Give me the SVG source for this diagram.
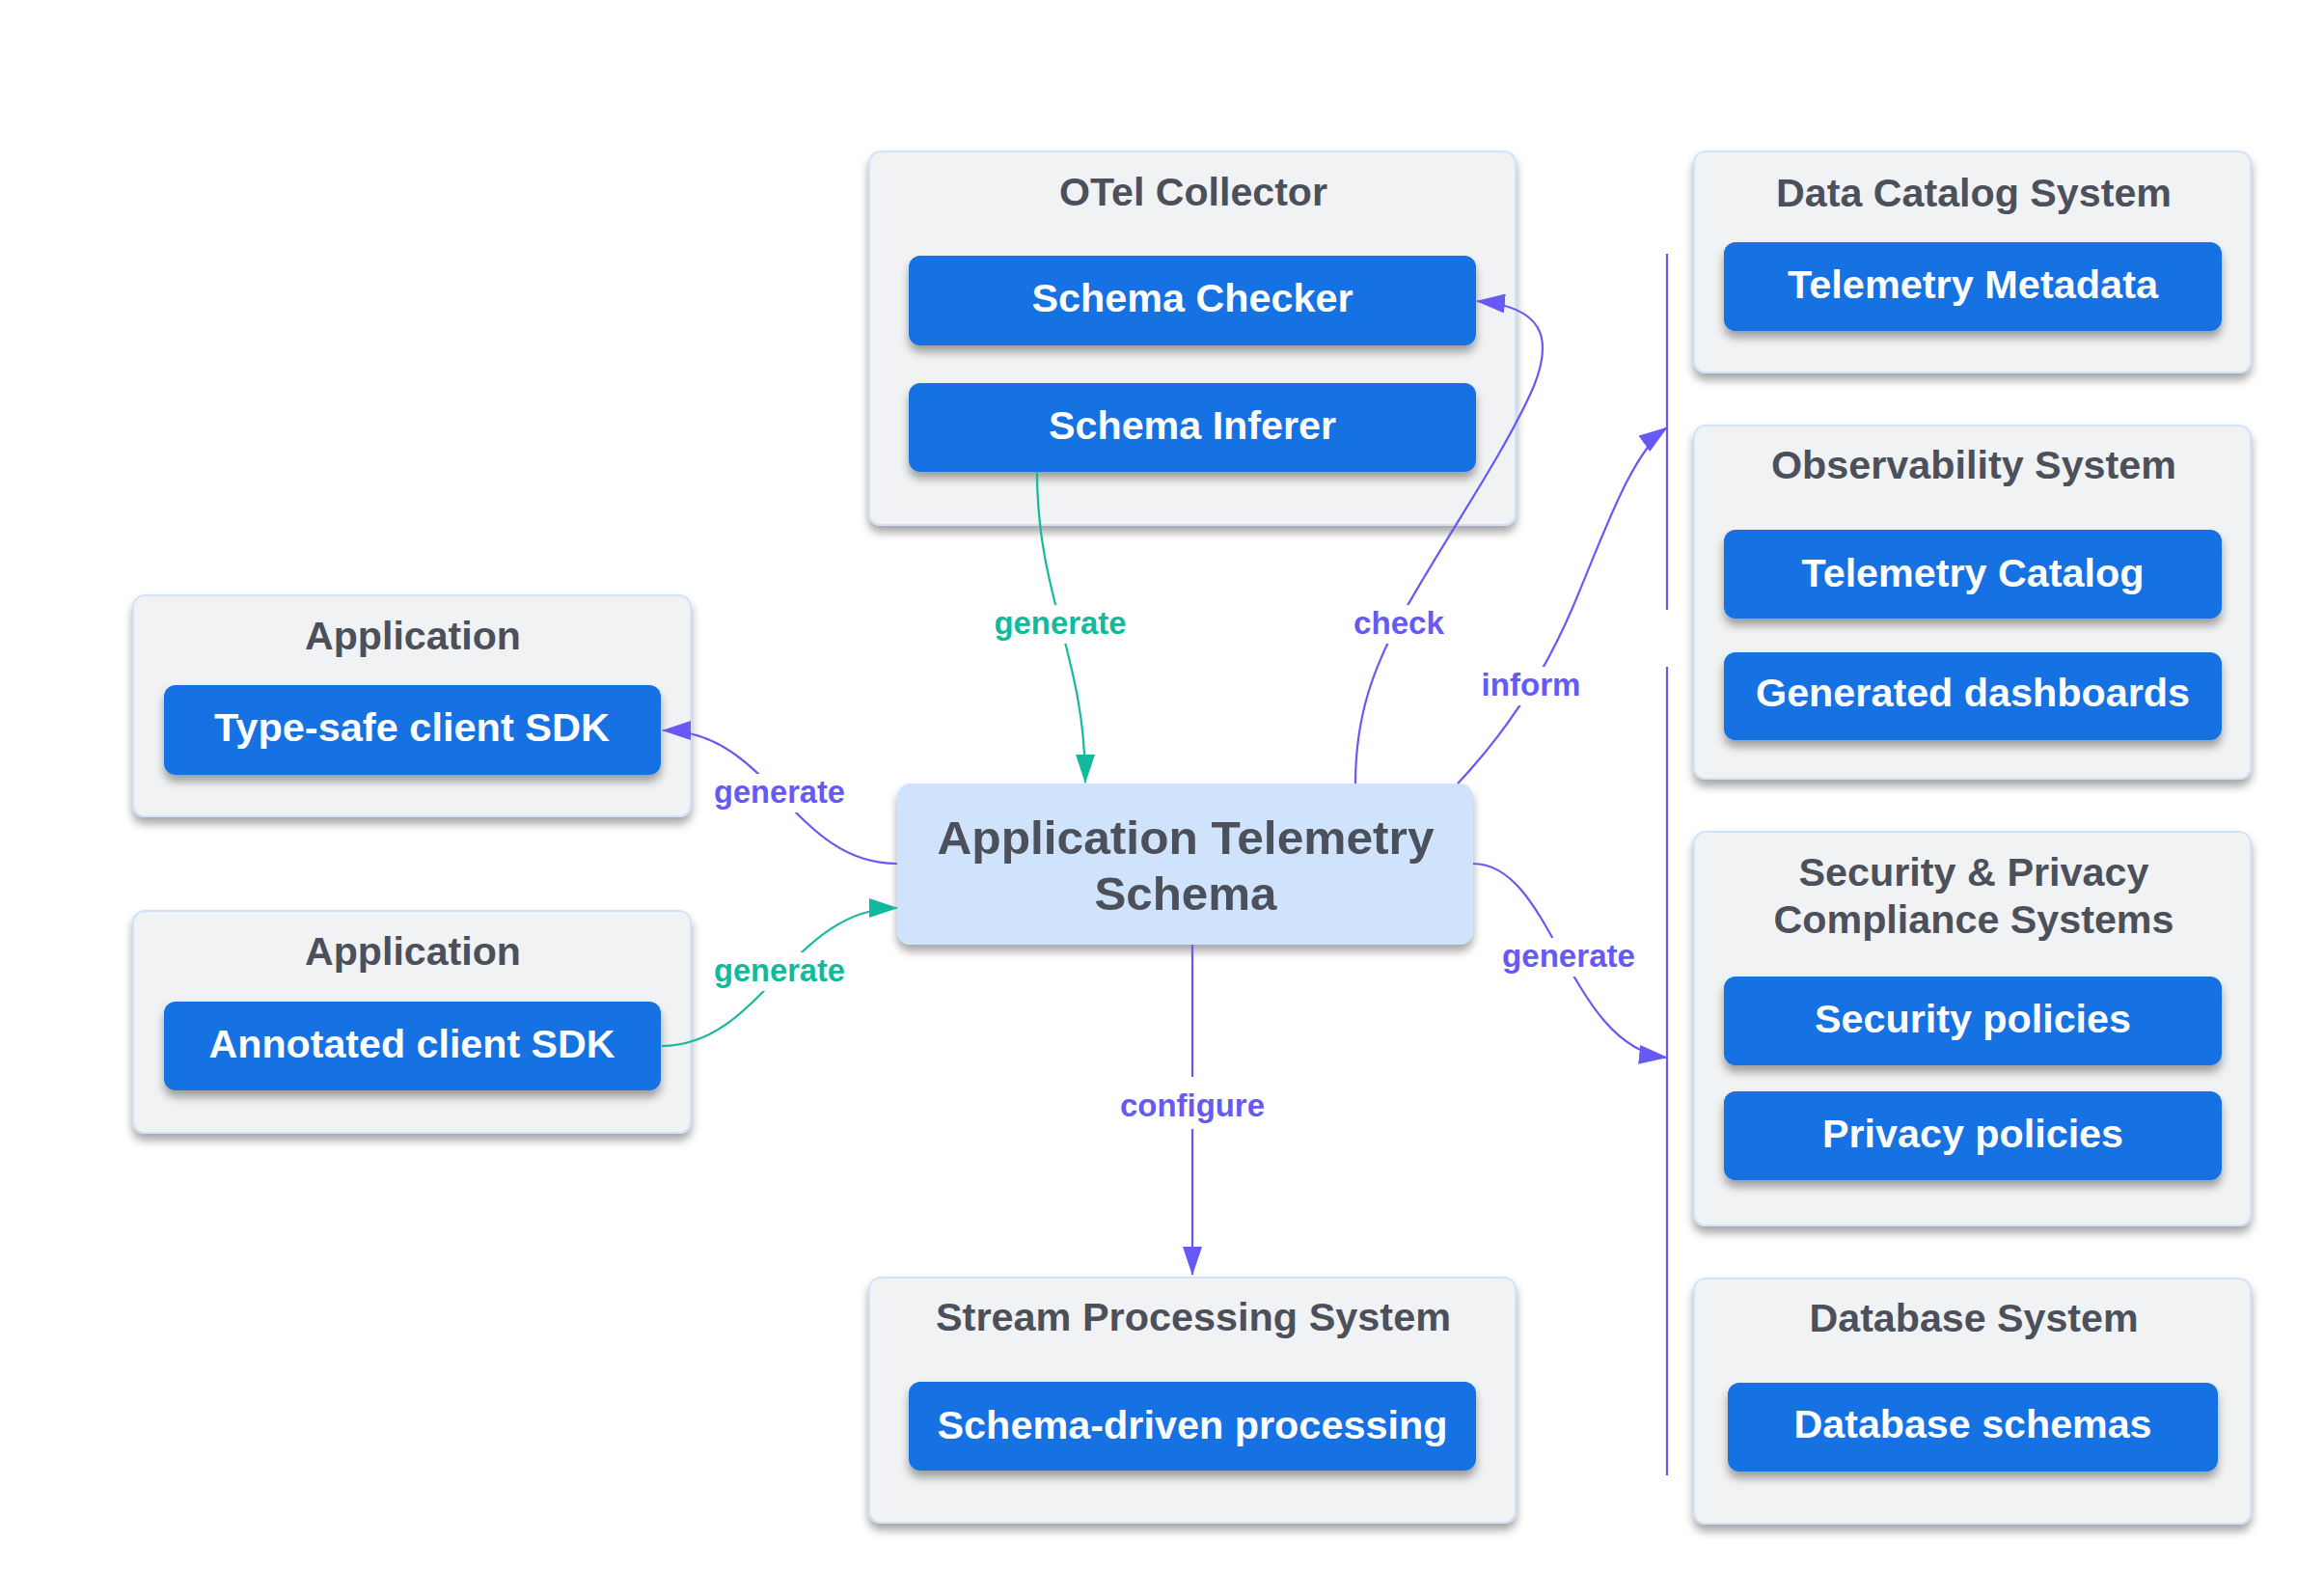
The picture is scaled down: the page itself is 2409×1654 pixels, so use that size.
<svg xmlns="http://www.w3.org/2000/svg" width="2409" height="1654" viewBox="0 0 2409 1654">
<defs>
<filter id="sh" x="-10%" y="-20%" width="120%" height="150%">
<feDropShadow dx="0" dy="7" stdDeviation="5" flood-color="#000" flood-opacity="0.35"/>
</filter>
<marker id="ap" markerUnits="userSpaceOnUse" markerWidth="30" markerHeight="20" viewBox="0 0 30 20" refX="29" refY="10" orient="auto"><path d="M0,0 L30,10 L0,20 z" fill="#6659f6"/></marker>
<marker id="ag" markerUnits="userSpaceOnUse" markerWidth="30" markerHeight="20" viewBox="0 0 30 20" refX="29" refY="10" orient="auto"><path d="M0,0 L30,10 L0,20 z" fill="#13b99c"/></marker>
<style>
.cont{fill:#f1f2f4;stroke:#d2e2fa;stroke-width:2;filter:url(#sh)}
.box{fill:#1272e3;filter:url(#sh)}
.core{fill:#cfe3fc;filter:url(#sh)}
.t{font-family:"Liberation Sans",Arial,sans-serif;font-weight:bold;text-anchor:middle}
.ti{font-size:40px;fill:#4b505a}
.bt{font-size:40px;fill:#ffffff}
.ct{font-size:49px;fill:#4b505a}
.lp{font-size:33px;fill:#6659f6}
.lg{font-size:33px;fill:#13b99c}
.ep{fill:none;stroke:#6659f6;stroke-width:2.2}
.eg{fill:none;stroke:#13b99c;stroke-width:2.2}
.bg{fill:#ffffff}
</style>
</defs>
<rect width="2409" height="1654" fill="#ffffff"/>

<g id="otel-collector">
<rect class="cont" x="901" y="157" width="670" height="387" rx="12"/>
<text class="t ti" x="1237" y="213" textLength="278" lengthAdjust="spacingAndGlyphs">OTel Collector</text>
</g>
<g id="schema-checker">
<rect class="box" x="942" y="265" width="588" height="93" rx="12"/>
<text class="t bt" x="1236" y="323" textLength="333" lengthAdjust="spacingAndGlyphs">Schema Checker</text>
</g>
<g id="schema-inferer">
<rect class="box" x="942" y="397" width="588" height="92" rx="12"/>
<text class="t bt" x="1236" y="455" textLength="298" lengthAdjust="spacingAndGlyphs">Schema Inferer</text>
</g>

<g id="app1">
<rect class="cont" x="138" y="617" width="578" height="229" rx="12"/>
<text class="t ti" x="428" y="673" textLength="224" lengthAdjust="spacingAndGlyphs">Application</text>
</g>
<g id="typesafe-sdk">
<rect class="box" x="170" y="710" width="515" height="93" rx="12"/>
<text class="t bt" x="427" y="768" textLength="410" lengthAdjust="spacingAndGlyphs">Type-safe client SDK</text>
</g>
<g id="app2">
<rect class="cont" x="138" y="944" width="578" height="230" rx="12"/>
<text class="t ti" x="428" y="1000" textLength="224" lengthAdjust="spacingAndGlyphs">Application</text>
</g>
<g id="annotated-sdk">
<rect class="box" x="170" y="1038" width="515" height="92" rx="12"/>
<text class="t bt" x="427" y="1096" textLength="421" lengthAdjust="spacingAndGlyphs">Annotated client SDK</text>
</g>

<g id="schema">
<rect class="core" x="930" y="812" width="597" height="167" rx="14"/>
<text class="t ct" x="1229" y="885" textLength="515" lengthAdjust="spacingAndGlyphs">Application Telemetry</text>
<text class="t ct" x="1229" y="943" textLength="189" lengthAdjust="spacingAndGlyphs">Schema</text>
</g>

<g id="stream-processing">
<rect class="cont" x="901" y="1324" width="670" height="254" rx="12"/>
<text class="t ti" x="1237" y="1379" textLength="534" lengthAdjust="spacingAndGlyphs">Stream Processing System</text>
</g>
<g id="schema-driven">
<rect class="box" x="942" y="1432" width="588" height="92" rx="12"/>
<text class="t bt" x="1236" y="1491" textLength="529" lengthAdjust="spacingAndGlyphs">Schema-driven processing</text>
</g>

<g id="data-catalog">
<rect class="cont" x="1756" y="157" width="577" height="229" rx="12"/>
<text class="t ti" x="2046" y="214" textLength="410" lengthAdjust="spacingAndGlyphs">Data Catalog System</text>
</g>
<g id="telemetry-metadata">
<rect class="box" x="1787" y="251" width="516" height="92" rx="12"/>
<text class="t bt" x="2045" y="309" textLength="384" lengthAdjust="spacingAndGlyphs">Telemetry Metadata</text>
</g>

<g id="observability">
<rect class="cont" x="1756" y="441" width="577" height="366" rx="12"/>
<text class="t ti" x="2046" y="496" textLength="420" lengthAdjust="spacingAndGlyphs">Observability System</text>
</g>
<g id="telemetry-catalog">
<rect class="box" x="1787" y="549" width="516" height="92" rx="12"/>
<text class="t bt" x="2045" y="608" textLength="355" lengthAdjust="spacingAndGlyphs">Telemetry Catalog</text>
</g>
<g id="generated-dashboards">
<rect class="box" x="1787" y="676" width="516" height="91" rx="12"/>
<text class="t bt" x="2045" y="732" textLength="450" lengthAdjust="spacingAndGlyphs">Generated dashboards</text>
</g>

<g id="security-privacy">
<rect class="cont" x="1756" y="862" width="577" height="408" rx="12"/>
<text class="t ti" x="2046" y="918" textLength="363" lengthAdjust="spacingAndGlyphs">Security &amp; Privacy</text>
<text class="t ti" x="2046" y="967" textLength="415" lengthAdjust="spacingAndGlyphs">Compliance Systems</text>
</g>
<g id="security-policies">
<rect class="box" x="1787" y="1012" width="516" height="92" rx="12"/>
<text class="t bt" x="2045" y="1070" textLength="328" lengthAdjust="spacingAndGlyphs">Security policies</text>
</g>
<g id="privacy-policies">
<rect class="box" x="1787" y="1131" width="516" height="92" rx="12"/>
<text class="t bt" x="2045" y="1189" textLength="312" lengthAdjust="spacingAndGlyphs">Privacy policies</text>
</g>

<g id="database">
<rect class="cont" x="1756" y="1325" width="577" height="254" rx="12"/>
<text class="t ti" x="2046" y="1380" textLength="341" lengthAdjust="spacingAndGlyphs">Database System</text>
</g>
<g id="database-schemas">
<rect class="box" x="1791" y="1433" width="508" height="92" rx="12"/>
<text class="t bt" x="2045" y="1490" textLength="371" lengthAdjust="spacingAndGlyphs">Database schemas</text>
</g>

<g id="connectors">
<line class="ep" x1="1728" y1="263" x2="1728" y2="632"/>
<line class="ep" x1="1728" y1="691" x2="1728" y2="1529"/>

<path class="eg" d="M1075,489 C1075,620 1125,680 1125,811" marker-end="url(#ag)"/>
<rect class="bg" x="1026" y="627" width="146" height="40"/>
<text class="t lg" x="1099" y="657" textLength="137" lengthAdjust="spacingAndGlyphs">generate</text>

<path class="ep" d="M1405,812 C1405,740 1425,690 1452,640 C1490,570 1560,470 1590,400 C1610,350 1600,318 1531,312" marker-end="url(#ap)"/>
<rect class="bg" x="1400" y="627" width="100" height="40"/>
<text class="t lp" x="1450" y="657" textLength="94" lengthAdjust="spacingAndGlyphs">check</text>

<path class="ep" d="M1511,812 C1560,760 1600,700 1630,630 C1660,560 1690,470 1728,443" marker-end="url(#ap)"/>
<rect class="bg" x="1533" y="691" width="108" height="40"/>
<text class="t lp" x="1587" y="721" textLength="103" lengthAdjust="spacingAndGlyphs">inform</text>

<path class="ep" d="M1527,895 C1610,895 1625,1085 1728,1096" marker-end="url(#ap)"/>
<rect class="bg" x="1555" y="972" width="144" height="40"/>
<text class="t lp" x="1626" y="1002" textLength="138" lengthAdjust="spacingAndGlyphs">generate</text>

<path class="ep" d="M930,895 C820,895 800,757 687,757" marker-end="url(#ap)"/>
<rect class="bg" x="736" y="802" width="144" height="40"/>
<text class="t lp" x="808" y="832" textLength="136" lengthAdjust="spacingAndGlyphs">generate</text>

<path class="eg" d="M686,1084 C790,1084 820,941 930,941" marker-end="url(#ag)"/>
<rect class="bg" x="736" y="987" width="144" height="40"/>
<text class="t lg" x="808" y="1017" textLength="136" lengthAdjust="spacingAndGlyphs">generate</text>

<line class="ep" x1="1236" y1="979" x2="1236" y2="1321" marker-end="url(#ap)"/>
<rect class="bg" x="1158" y="1116" width="156" height="54"/>
<text class="t lp" x="1236" y="1157" textLength="150" lengthAdjust="spacingAndGlyphs">configure</text>
</g>
</svg>
